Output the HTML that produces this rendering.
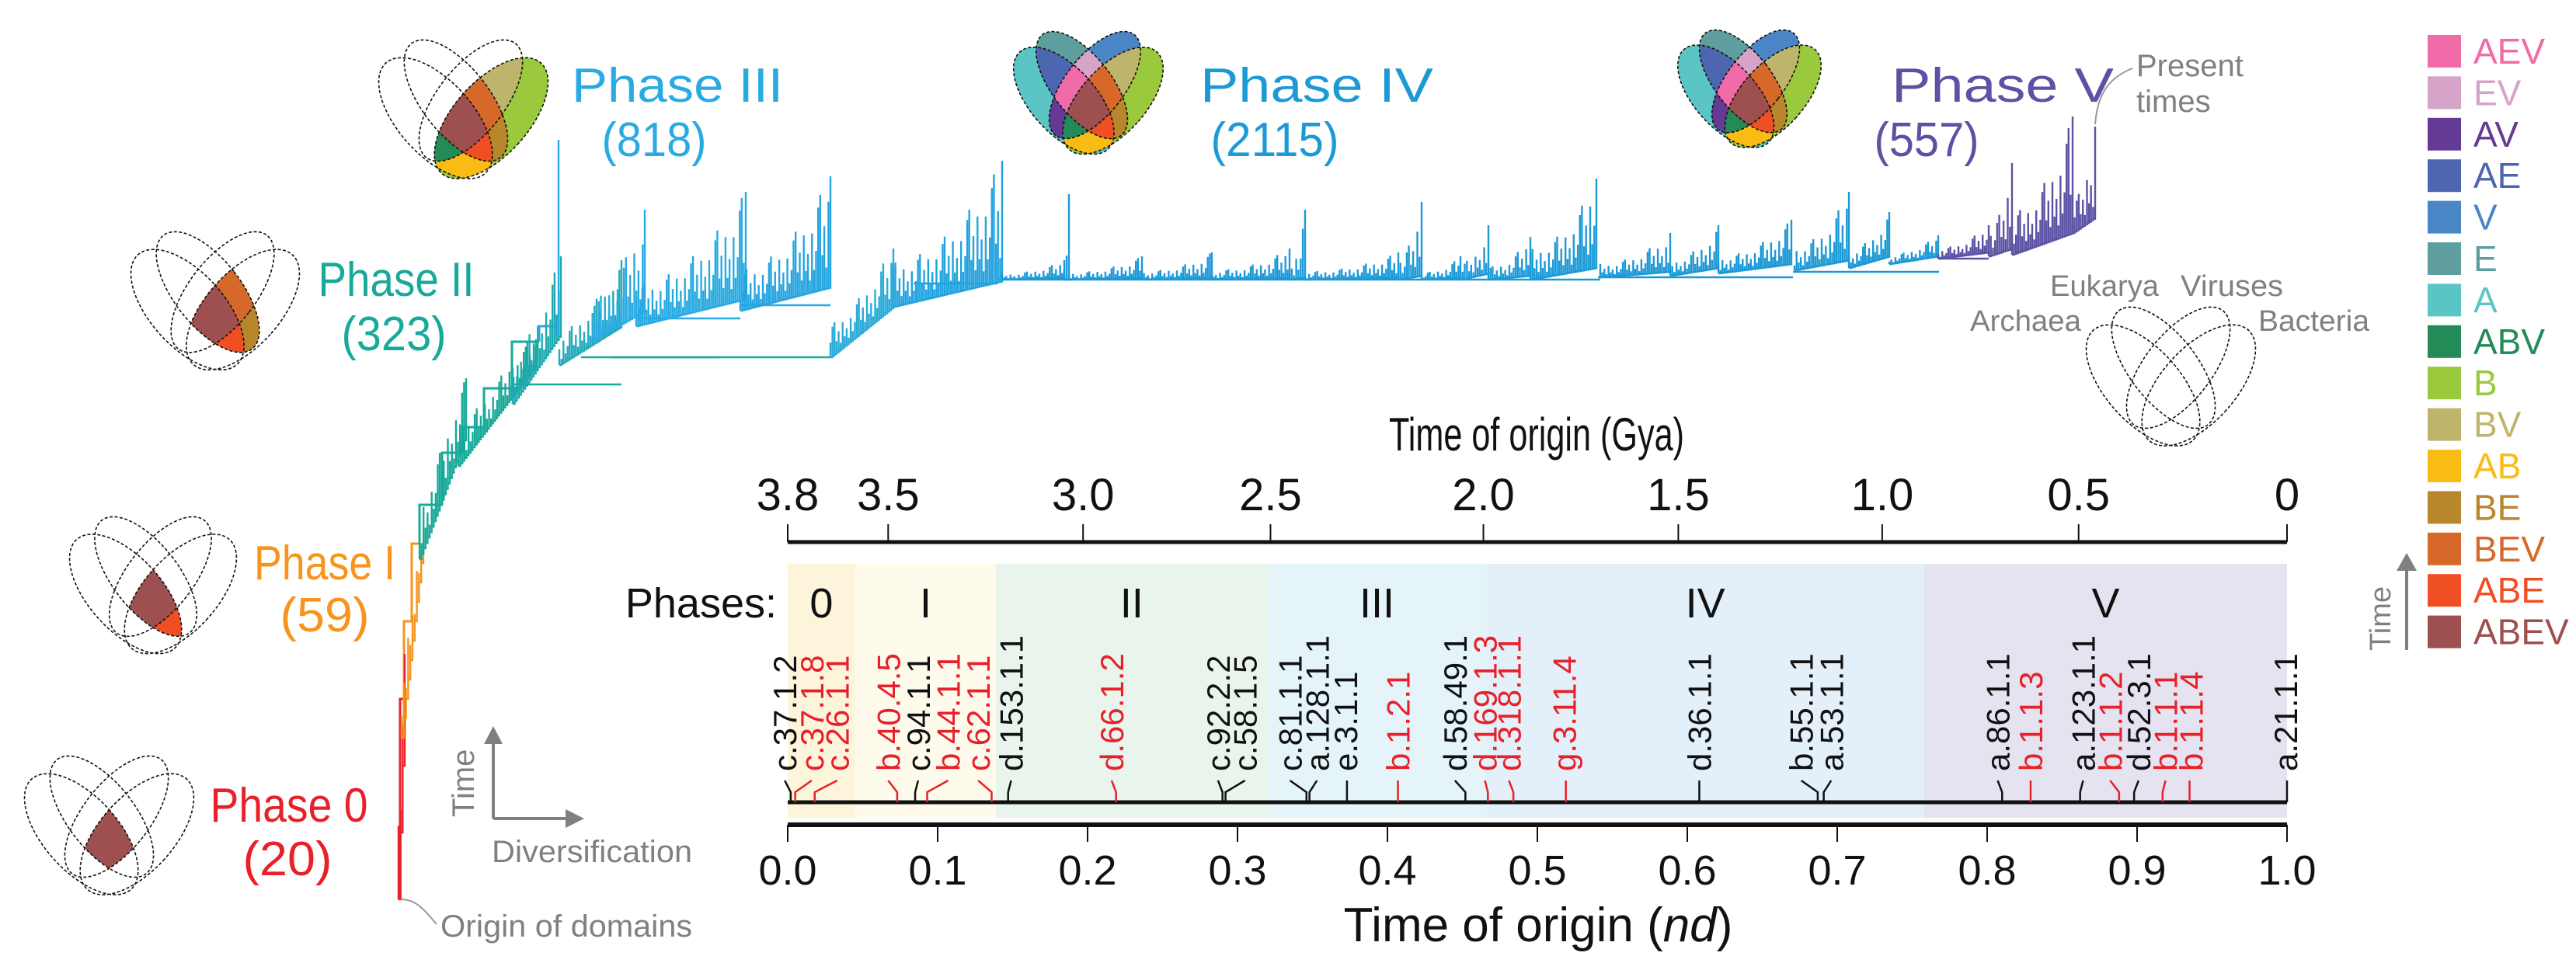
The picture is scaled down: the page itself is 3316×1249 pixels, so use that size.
<!DOCTYPE html>
<html><head><meta charset="utf-8"><style>
html,body{margin:0;padding:0;background:#fff}
svg{display:block}
text{font-family:"Liberation Sans Narrow","Liberation Sans",sans-serif}
</style></head><body>
<svg id="fig" xmlns="http://www.w3.org/2000/svg" width="3316" height="1249" viewBox="0 0 3316 1249">
<defs>
  <clipPath id="cA"><ellipse cx="70" cy="105" rx="40" ry="80" transform="rotate(-42 70 105)"/></clipPath>
  <clipPath id="cE"><ellipse cx="92" cy="86" rx="36" ry="78" transform="rotate(-38 92 86)"/></clipPath>
  <clipPath id="cV"><ellipse cx="108" cy="86" rx="36" ry="78" transform="rotate(38 108 86)"/></clipPath>
  <clipPath id="cB"><ellipse cx="130" cy="105" rx="40" ry="80" transform="rotate(42 130 105)"/></clipPath>
</defs>
<g id="tree"></g>
<g id="icons"></g>
<g id="timeline"></g>
<g id="legend"></g>

<g font-size="62" text-anchor="middle">
  <text x="372" y="1058" fill="#e8202a" textLength="203" lengthAdjust="spacingAndGlyphs">Phase 0</text>
  <text x="370" y="1127" fill="#e8202a" textLength="115" lengthAdjust="spacingAndGlyphs">(20)</text>
  <text x="418" y="746" fill="#f7941d" textLength="182" lengthAdjust="spacingAndGlyphs">Phase I</text>
  <text x="418" y="813" fill="#f7941d" textLength="115" lengthAdjust="spacingAndGlyphs">(59)</text>
  <text x="510" y="381" fill="#17a999" textLength="201" lengthAdjust="spacingAndGlyphs">Phase II</text>
  <text x="507" y="451" fill="#17a999" textLength="135" lengthAdjust="spacingAndGlyphs">(323)</text>
  <text x="872" y="131" fill="#29abe2" textLength="272" lengthAdjust="spacingAndGlyphs">Phase III</text>
  <text x="842" y="201" fill="#29abe2" textLength="135" lengthAdjust="spacingAndGlyphs">(818)</text>
  <text x="1695" y="131" fill="#1b9ad6" textLength="300" lengthAdjust="spacingAndGlyphs">Phase IV</text>
  <text x="1641" y="201" fill="#1b9ad6" textLength="165" lengthAdjust="spacingAndGlyphs">(2115)</text>
  <text x="2578" y="131" fill="#5b52a3" textLength="286" lengthAdjust="spacingAndGlyphs">Phase V</text>
  <text x="2480" y="201" fill="#5b52a3" textLength="135" lengthAdjust="spacingAndGlyphs">(557)</text>
</g>

<g fill="#808080" font-size="40">
  <text x="2750" y="98">Present</text>
  <text x="2750" y="144">times</text>
  <path d="M2697 160 C2700 120 2715 100 2745 88" fill="none" stroke="#999" stroke-width="2"/>
  <text x="567" y="1206" textLength="324" lengthAdjust="spacingAndGlyphs">Origin of domains</text>
  <path d="M516 1158 C535 1158 545 1170 562 1190" fill="none" stroke="#999" stroke-width="2"/>
  <text x="633" y="1110" textLength="258" lengthAdjust="spacingAndGlyphs">Diversification</text>
  <text transform="translate(610 1052) rotate(-90)" x="0" y="0">Time</text>
  <path d="M635 1054 V950 M635 1054 H735" stroke="#808080" stroke-width="4" fill="none"/>
  <path d="M623 958 L635 935 L647 958 Z M728 1042 L752 1054 L728 1066 Z" fill="#808080"/>
  <g font-size="38">
    <text x="2639" y="381" textLength="140" lengthAdjust="spacingAndGlyphs">Eukarya</text>
    <text x="2807" y="381" textLength="132" lengthAdjust="spacingAndGlyphs">Viruses</text>
    <text x="2536" y="426" textLength="143" lengthAdjust="spacingAndGlyphs">Archaea</text>
    <text x="2907" y="426" textLength="143" lengthAdjust="spacingAndGlyphs">Bacteria</text>
  </g>
</g>
</svg>
<script>
const gyaLabels = ['3.8','3.5','3.0','2.5','2.0','1.5','1.0','0.5','0'];
const gyaNd = [0, 0.067, 0.197, 0.322, 0.464, 0.594, 0.73, 0.861, 1.0];
const ndTicks = [0,0.1,0.2,0.3,0.4,0.5,0.6,0.7,0.8,0.9,1.0];
const ndTickLabels = ['0.0','0.1','0.2','0.3','0.4','0.5','0.6','0.7','0.8','0.9','1.0'];
const phaseNames = ['0','I','II','III','IV','V'];
const phaseStart = [0, 0.045, 0.139, 0.32, 0.466, 0.758];
const phaseEnd = [0.045, 0.139, 0.32, 0.466, 0.758, 1.0];
const phaseFill = ['#fdf4dc','#fefaec','#e8f4ec','#e5f4f8','#e3eff9','#e5e3f0'];
const markerLabels = ['c.37.1.2','c.37.1.8','c.26.1.1','b.40.4.5','c.94.1.1','b.44.1.1','c.62.1.1','d.153.1.1','d.66.1.2','c.92.2.2','c.58.1.5','c.81.1.1','a.128.1.1','e.3.1.1','b.1.2.1','d.58.49.1','d.169.1.3','d.318.1.1','g.3.11.4','d.36.1.1','b.55.1.1','a.53.1.1','a.86.1.1','b.1.1.3','a.123.1.1','b.1.1.2','d.52.3.1','b.1.1.1','b.1.1.4','a.21.1.1'];
const markerNd = [0.002,0.005,0.018,0.073,0.085,0.093,0.136,0.147,0.219,0.290,0.292,0.346,0.348,0.373,0.407,0.452,0.467,0.484,0.519,0.608,0.687,0.691,0.810,0.829,0.862,0.888,0.898,0.917,0.935,1.0];
const markerLabelNd = [-0.002,0.016,0.033,0.067,0.087,0.107,0.127,0.149,0.216,0.287,0.305,0.335,0.353,0.372,0.407,0.445,0.465,0.481,0.518,0.608,0.676,0.696,0.807,0.829,0.864,0.882,0.901,0.919,0.936,0.999];
const markerRed = [0,1,1,1,0,1,1,0,1,0,0,0,0,0,1,0,1,1,1,0,0,0,0,1,0,1,0,1,1,0];
const legendLabels = ['AEV','EV','AV','AE','V','E','A','ABV','B','BV','AB','BE','BEV','ABE','ABEV'];
const legendColors = ['#f06ba8','#d6a3c9','#643a94','#4c67b0','#4a86c5','#5e9e9e','#5bc5c5','#238b57','#9ac93d','#bfb46c','#f9bc15','#b8862b','#d6692a','#f04e23','#9e4f4f'];
const iconSets = [
  ['ABEV'],
  ['ABE','ABEV'],
  ['BE','BEV','ABE','ABEV'],
  ['B','AB','BE','BV','ABV','BEV','ABE','ABEV'],
  ['A','B','E','V','AB','AE','AV','BE','BV','EV','ABV','AEV','BEV','ABE','ABEV'],
  ['A','B','E','V','AB','AE','AV','BE','BV','EV','ABV','AEV','BEV','ABE','ABEV']
];
const iconX = [33, 91, 170, 489, 1306, 2161];
const iconY = [975, 667, 300, 53, 42, 40];
const iconW = [215, 212, 214, 215, 190, 182];
const clX0 = [513,517,540,590,660,715,720,760,819,953,1069,1150,1290,1370,1376,1470,1560,1660,1680,1800,1830,1880,1916,1970,2060,2150,2212,2310,2380,2432,2495,2560,2590,2668];
const clX1 = [521,545,600,690,722,719,800,830,960,1069,1150,1290,1370,1376,1470,1560,1660,1680,1800,1830,1880,1916,1970,2055,2150,2212,2306,2380,2432,2495,2560,2590,2668,2697];
const clB0 = [1158,950,720,600,520,430,470,440,420,400,460,395,360,360,360,360,360,360,360,360,360,360,360,360,357,355,352,348,345,340,333,330,328,300];
const clB1 = [900,700,560,470,430,425,420,400,385,370,395,362,358,360,358,358,358,357,358,355,358,352,355,345,350,345,340,335,330,330,325,320,300,280];
const clPeak = [842,683,487,437,330,180,335,270,247,227,320,207,335,250,330,325,320,270,325,260,330,290,305,230,300,290,283,247,273,303,290,210,150,163];
const clColor = ['#e8202a','#f7941d','#17a999','#17a999','#1fa9b0','#29abe2','#22aabb','#29abe2','#29abe2','#25a5e0','#2aabd8','#22a3df','#1c9ad8','#1c9ad8','#1c9ad8','#1c9ad8','#1c9ad8','#1c9ad8','#1c9ad8','#1c9ad8','#1c9ad8','#1c9ad8','#1c9ad8','#1c9ad8','#1b98d6','#1b98d6','#1b98d6','#1b98d6','#1b98d6','#1b98d6','#5b52a3','#5b52a3','#5b52a3','#5b52a3'];
const conX0 = [659,748,788,819,953,1176,1284,2057,2308,2496];
const conX1 = [800,926,1069,953,1069,1284,2060,2308,2496,2560];
const conY = [495,460,460,410,393,365,360,357,350,333];
const conColor = ['#17a999','#17a999','#17a999','#29abe2','#29abe2','#1c9ad8','#1c9ad8','#1b98d6','#1b98d6','#5b52a3'];
const trunkX = [515,515,520,530,540,569,596,623,659,694,717];
const trunkY = [1158,950,900,800,700,650,583,550,500,440,420];
const trunkColor = ['#e8202a','#e8202a','#f7941d','#f7941d','#17a999','#17a999','#17a999','#17a999','#17a999','#29abe2'];

const NS = 'http://www.w3.org/2000/svg';
function mk(tag, attrs, parent){ const e=document.createElementNS(NS,tag); for(const k in attrs) e.setAttribute(k,attrs[k]); if(parent) parent.appendChild(e); return e; }
const X0 = 1014, XW = 1930;
function xs(v){ return X0 + v*XW; }

const tl = document.getElementById('timeline');
for (let i=0;i<phaseNames.length;i++){
  const r = mk('rect',{x:xs(phaseStart[i]),y:726,width:xs(phaseEnd[i])-xs(phaseStart[i]),height:327,fill:phaseFill[i]},tl);
  
  
  const t = mk('text',{x:(xs(phaseStart[i])+xs(phaseEnd[i]))/2,y:795,'font-size':54,'text-anchor':'middle',fill:'#111'},tl);
  t.textContent = phaseNames[i];
  
  
}
const ph = mk('text',{x:1000,y:795,'font-size':54,'text-anchor':'end',fill:'#111'},tl);
ph.textContent='Phases:';


const ta = mk('path',{d:`M${xs(0)} 698 H${xs(1)}`,stroke:'#111','stroke-width':5},tl);


for (let i=0;i<gyaLabels.length;i++){
  const x = xs(gyaNd[i]);
  const tk = mk('path',{d:`M${x} 675 V698`,stroke:'#111','stroke-width':2},tl);
  
  
  const lb = mk('text',{x:x,y:657,'font-size':58,'text-anchor':'middle',fill:'#111'},tl);
  lb.textContent = gyaLabels[i];
  
  
}
const gt = mk('text',{x:1978,y:580,'font-size':60,'text-anchor':'middle',fill:'#111',textLength:380,lengthAdjust:'spacingAndGlyphs'},tl);
gt.textContent='Time of origin (Gya)';


const ma = mk('path',{d:`M${xs(0)} 1033 H${xs(1)}`,stroke:'#111','stroke-width':5},tl);


for (let i=0;i<markerLabels.length;i++){
  const col = markerRed[i] ? '#e8202a' : '#111';
  const xt = xs(markerNd[i]), xl = xs(markerLabelNd[i]);
  const d = Math.abs(xt-xl) < 3 ? `M${xt} 1033 V1005` : `M${xt} 1033 V1020 L${xl} 1005`;
  const tk = mk('path',{d:d,stroke:col,'stroke-width':2.5,fill:'none'},tl);
  
  
  const lb = mk('text',{transform:`translate(${xl+15} 993) rotate(-90)`,x:0,y:0,'font-size':42,fill:col,style:'font-family:"Liberation Sans",sans-serif'},tl);
  lb.textContent = markerLabels[i];
  
  
}
const ba = mk('path',{d:`M${xs(0)} 1062 H${xs(1)}`,stroke:'#111','stroke-width':6},tl);


for (let i=0;i<ndTicks.length;i++){
  const x = xs(ndTicks[i]);
  const tk = mk('path',{d:`M${x} 1062 V1084`,stroke:'#111','stroke-width':2},tl);
  
  
  const lb = mk('text',{x:x,y:1139,'font-size':54,'text-anchor':'middle',fill:'#111'},tl);
  lb.textContent = ndTickLabels[i];
  
  
}
const bt = mk('text',{x:1980,y:1212,'font-size':62,'text-anchor':'middle',fill:'#111'},tl);
bt.innerHTML = 'Time of origin (<tspan font-style="italic">nd</tspan>)';



const lg = document.getElementById('legend');
for (let i=0;i<legendLabels.length;i++){
  const y = 45 + i*53.4;
  const r = mk('rect',{x:3125,y:y,width:43,height:42,fill:legendColors[i]},lg);
  
  
  const t = mk('text',{x:3184,y:y+37,'font-size':46,fill:legendColors[i],style:'font-family:"Liberation Sans",sans-serif'},lg);
  t.textContent = legendLabels[i];
  
  
}
const la = mk('path',{d:'M3098 837 V725',stroke:'#808080','stroke-width':4},lg);


const lh = mk('path',{d:'M3085 735 L3098 712 L3111 735 Z',fill:'#808080'},lg);


const lt = mk('text',{transform:'translate(3077 838) rotate(-90)','font-size':38,fill:'#808080'},lg);
lt.textContent='Time';



const colorOf = {}; legendLabels.forEach((l,i)=>colorOf[l]=legendColors[i]);
const ic = document.getElementById('icons');
function venn(x, y, w, sets, name){
  const s = w/180;
  const g = mk('g',{transform:`translate(${x-10*s} ${y-22*s}) scale(${s})`},ic);
  
  
  const sorted = sets.slice().sort((a,b)=>a.length-b.length);
  sorted.forEach(code=>{
    let parent = g;
    code.split('').forEach(ch=>{ parent = mk('g',{'clip-path':`url(#c${ch})`},parent); });
    mk('rect',{x:0,y:0,width:200,height:200,fill:colorOf[code]},parent);
  });
  const ell = [[70,105,-42],[92,86,-38],[108,86,38],[130,105,42]];
  const rx=[40,36,36,40], ry=[80,78,78,80];
  ell.forEach((e,i)=>{
    const el = mk('ellipse',{cx:e[0],cy:e[1],rx:rx[i],ry:ry[i],transform:`rotate(${e[2]} ${e[0]} ${e[1]})`,fill:'none',stroke:'#111','stroke-width':1.6/s,'stroke-dasharray':`${4/s} ${2.5/s}`},g);
    
    
  });
}
for (let i=0;i<iconSets.length;i++) venn(iconX[i], iconY[i], iconW[i], iconSets[i], 'venn-phase-'+i);
venn(2687, 397, 215, [], 'venn-reference');

const tr = document.getElementById('tree');
const pat = [1,0.35,0.62,0.2,0.8,0.3,0.5,0.15,0.7,0.25,0.45,0.9];
for (let i=0;i<trunkX.length-1;i++){
  const p = mk('path',{d:`M${trunkX[i]} ${trunkY[i]} V${trunkY[i+1]} H${trunkX[i+1]}`,stroke:trunkColor[i],'stroke-width':3,fill:'none'},tr);
  
  
}
for (let i=0;i<conX0.length;i++){
  const p = mk('path',{d:`M${conX0[i]} ${conY[i]} H${conX1[i]}`,stroke:conColor[i],'stroke-width':2.5,fill:'none'},tr);
  
  
}
for (let c=0;c<clX0.length;c++){
  const x0=clX0[c], x1=clX1[c], b0=clB0[c], b1=clB1[c], pk=clPeak[c];
  const n = Math.max(1, Math.floor((x1-x0)/2.6));
  let d = `M${x0} ${b0}`;
  let spikes = '';
  for (let i=0;i<=n;i++){
    const t = i/n, x = x0 + (x1-x0)*t, base = b0 + (b1-b0)*t;
    d += ` H${x.toFixed(1)} V${base.toFixed(1)}`;
    const env = (base-pk)*(0.3+0.7*Math.pow(t,2.2));
    const h = i===n ? (base-pk) : env*pat[(i+c)%pat.length];
    spikes += ` M${x.toFixed(1)} ${base.toFixed(1)} V${(base-h).toFixed(1)}`;
  }
  const p = mk('path',{d:d+spikes,stroke:clColor[c],'stroke-width':2.4,fill:'none'},tr);
  
  
}
</script>
</body></html>
